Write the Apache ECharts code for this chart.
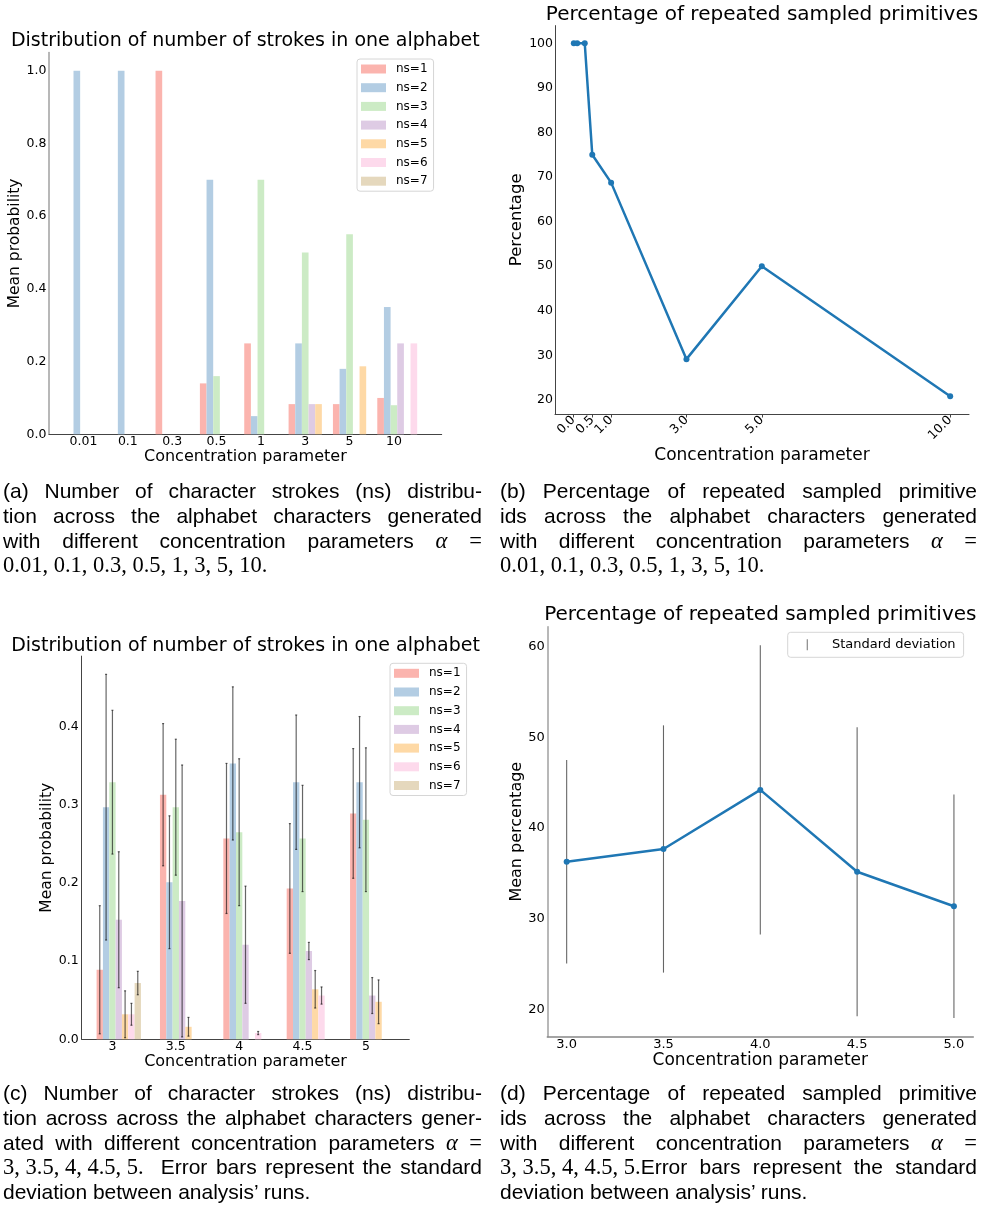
<!DOCTYPE html>
<html><head><meta charset="utf-8">
<script src="https://cdn.jsdelivr.net/npm/echarts@6/dist/echarts.min.js"></script>
<style>
html,body{margin:0;padding:0;background:#fff;}
#chart{position:absolute;left:0;top:0;width:985px;height:1207px;}
.cap{position:absolute;font-family:"Liberation Sans",Arial,sans-serif;font-size:21px;color:#000;}
.cap .l{height:24.8px;line-height:24.8px;text-align:justify;text-align-last:justify;white-space:nowrap;}
.cap .last{text-align-last:left;}
.m{font-family:"Liberation Serif","DejaVu Serif",serif;font-size:22.5px;display:inline-block;}
.a{font-style:italic;}
</style></head>
<body>
<div id="chart"></div>
<div class="cap" style="left:3px;top:479px;width:479px">
<div class="l">(a) Number of character strokes (ns) distribu-</div>
<div class="l">tion across the alphabet characters generated</div>
<div class="l">with different concentration parameters <span class="m a">α</span> <span class="m">=</span></div>
<div class="l last"><span class="m">0.01, 0.1, 0.3, 0.5, 1, 3, 5, 10.</span></div>
</div>
<div class="cap" style="left:500px;top:479px;width:477px">
<div class="l">(b) Percentage of repeated sampled primitive</div>
<div class="l">ids across the alphabet characters generated</div>
<div class="l">with different concentration parameters <span class="m a">α</span> <span class="m">=</span></div>
<div class="l last"><span class="m">0.01, 0.1, 0.3, 0.5, 1, 3, 5, 10.</span></div>
</div>
<div class="cap" style="left:3px;top:1081px;width:479px">
<div class="l">(c) Number of character strokes (ns) distribu-</div>
<div class="l">tion across across the alphabet characters gener-</div>
<div class="l">ated with different concentration parameters <span class="m a">α</span> <span class="m">=</span></div>
<div class="l"><span class="m">3, 3.5, 4, 4.5, 5.</span>&nbsp; Error bars represent the standard</div>
<div class="l last">deviation between analysis’ runs.</div>
</div>
<div class="cap" style="left:500px;top:1081px;width:477px">
<div class="l">(d) Percentage of repeated sampled primitive</div>
<div class="l">ids across the alphabet characters generated</div>
<div class="l">with different concentration parameters <span class="m a">α</span> <span class="m">=</span></div>
<div class="l"><span class="m">3, 3.5, 4, 4.5, 5.</span>Error bars represent the standard</div>
<div class="l last">deviation between analysis’ runs.</div>
</div>
<script>
// ---------------- DATA ----------------
const nsNames = ['ns=1','ns=2','ns=3','ns=4','ns=5','ns=6','ns=7'];

// (a) distribution of number of strokes
const catsA = ['0.01','0.1','0.3','0.5','1','3','5','10'];
const aNs1 = [0, 0, 1.0, 0.14, 0.25, 0.083, 0.083, 0.10];
const aNs2 = [1.0, 1.0, 0, 0.70, 0.05, 0.25, 0.18, 0.35];
const aNs3 = [0, 0, 0, 0.16, 0.70, 0.50, 0.55, 0.08];
const aNs4 = [0, 0, 0, 0, 0, 0.083, 0, 0.25];
const aNs5 = [0, 0, 0, 0, 0, 0.083, 0.187, 0];
const aNs6 = [0, 0, 0, 0, 0, 0, 0, 0.25];
const aNs7 = [0, 0, 0, 0, 0, 0, 0, 0];
const aYTicks = [0, 0.2, 0.4, 0.6, 0.8, 1.0];

// (b) percentage of repeated sampled primitives
const bAlpha = [0.01, 0.1, 0.3, 0.5, 1, 3, 5, 10];
const bPct = [100, 100, 100, 75, 68.75, 29.17, 50, 20.83];
const bXTicks = [0, 0.5, 1, 3, 5, 10];
const bYTicks = [20, 30, 40, 50, 60, 70, 80, 90, 100];

// (c) distribution with std
const catsC = ['3','3.5','4','4.5','5'];
const cNs1 = [0.089, 0.313, 0.257, 0.193, 0.289];
const cNs2 = [0.297, 0.201, 0.353, 0.329, 0.329];
const cNs3 = [0.329, 0.297, 0.265, 0.257, 0.281];
const cNs4 = [0.153, 0.177, 0.121, 0.113, 0.056];
const cNs5 = [0.032, 0.016, 0, 0.064, 0.048];
const cNs6 = [0.032, 0, 0.008, 0.056, 0];
const cNs7 = [0.072, 0, 0, 0, 0];
const cSd1 = [0.082, 0.091, 0.096, 0.083, 0.083];
const cSd2 = [0.170, 0.085, 0.098, 0.086, 0.084];
const cSd3 = [0.092, 0.087, 0.094, 0.068, 0.092];
const cSd4 = [0.087, 0.174, 0.075, 0.011, 0.023];
const cSd5 = [0.030, 0.012, 0, 0.024, 0.028];
const cSd6 = [0.014, 0, 0.002, 0.011, 0];
const cSd7 = [0.015, 0, 0, 0, 0];
const cYTicks = [0, 0.1, 0.2, 0.3, 0.4];

// (d) mean percentage with std
const dAlpha = [3.0, 3.5, 4.0, 4.5, 5.0];
const dMean = [36.3, 37.7, 44.2, 35.2, 31.4];
const dStd = [11.2, 13.6, 15.9, 15.9, 12.3];
const dYTicks = [20, 30, 40, 50, 60];

// ---------------- STYLE / LAYOUT ----------------
const FONT = 'DejaVu Sans';
const PASTEL = ['#fbb4ae','#b3cde3','#ccebc5','#decbe4','#fed9a6','#fddaec','#e5d8bd'];
const BLUE = '#1f77b4';
const aVals = [aNs1,aNs2,aNs3,aNs4,aNs5,aNs6,aNs7];
const cVals = [cNs1,cNs2,cNs3,cNs4,cNs5,cNs6,cNs7];
const cSds = [cSd1,cSd2,cSd3,cSd4,cSd5,cSd6,cSd7];

const grids = [
  {left:49, top:52.5, width:392.7, height:381.8},
  {left:555, top:25.6, width:414, height:388.4},
  {left:81.7, top:656.1, width:327.6, height:383.2},
  {left:547.3, top:626.7, width:426, height:410}
];

function padRange(lo, hi){ const m = (hi-lo)*0.05; return [lo-m, hi+m]; }
// matplotlib-like auto limits
const wA = 0.15, wC = 0.1;
const xA = padRange(-2.5*wA, catsA.length-1 + 4.5*wA);
const yA = [0, Math.max(...aVals.flat())*1.05];
const xB = padRange(Math.min(...bAlpha), Math.max(...bAlpha));
const yB = padRange(Math.min(...bPct), Math.max(...bPct));
const xC = padRange(-2.5*wC, catsC.length-1 + 4.5*wC);
let cMax = 0; cVals.forEach((arr,i)=>arr.forEach((v,k)=>{cMax=Math.max(cMax, v+cSds[i][k]);}));
const yC = [0, cMax*1.05];
const xD = padRange(Math.min(...dAlpha), Math.max(...dAlpha));
const yD = padRange(Math.min(...dMean.map((m,i)=>m-dStd[i])), Math.max(...dMean.map((m,i)=>m+dStd[i])));

const bwA = wA * grids[0].width/(xA[1]-xA[0]);
const bwC = wC * grids[2].width/(xC[1]-xC[0]);

function txt(size, extra){ return Object.assign({fontFamily:FONT, fontSize:size, color:'#000'}, extra||{}); }

function xAxisDef(gi, rng, o){
  return {
    type:'value', gridIndex:gi, min:rng[0], max:rng[1],
    axisLine:{show:true, onZero:false, lineStyle:{color:o.lineColor||'#444', width:o.lineWidth||1}},
    axisTick:o.tick ? {show:true, customValues:o.ticks, length:3.5, lineStyle:{color:'#444'}} : {show:false},
    splitLine:{show:false},
    axisLabel:Object.assign({customValues:o.ticks, formatter:o.fmt, margin:o.margin, rotate:o.rotate||0,
      hideOverlap:false}, txt(o.fs)),
    name:'Concentration parameter', nameLocation:'middle', nameGap:o.nameGap,
    nameTextStyle:txt(o.nfs)
  };
}
function yAxisDef(gi, rng, o){
  return {
    type:'value', gridIndex:gi, min:rng[0], max:rng[1],
    axisLine:{show:true, onZero:false, lineStyle:{color:o.lineColor||'#444', width:o.lineWidth||1}},
    axisTick:{show:false}, splitLine:{show:false},
    axisLabel:Object.assign({customValues:o.ticks, formatter:o.fmt, margin:o.margin, hideOverlap:false}, txt(o.fs)),
    name:o.name, nameLocation:'middle', nameGap:o.nameGap,
    nameTextStyle:txt(o.nfs)
  };
}

function errRender(cap, color, width){
  return function(params, api){
    const x = api.value(0), lo = api.value(1), hi = api.value(2);
    const p1 = api.coord([x, hi]), p2 = api.coord([x, lo]);
    const st = {stroke:color, lineWidth:width};
    const ch = [{type:'line', shape:{x1:p1[0], y1:p1[1], x2:p2[0], y2:p2[1]}, style:st}];
    if (cap > 0) {
      ch.push({type:'line', shape:{x1:p1[0]-cap, y1:p1[1], x2:p1[0]+cap, y2:p1[1]}, style:st});
      ch.push({type:'line', shape:{x1:p2[0]-cap, y1:p2[1], x2:p2[0]+cap, y2:p2[1]}, style:st});
    }
    return {type:'group', children:ch};
  };
}

const series = [];
// (a) bars
aVals.forEach((vals,i)=>{
  series.push({type:'bar', name:nsNames[i], xAxisIndex:0, yAxisIndex:0,
    barWidth:bwA, barGap:'0%', itemStyle:{color:PASTEL[i]},
    data:vals.map((v,k)=>[k+wA, v]), silent:true, animation:false});
});
// (c) bars
cVals.forEach((vals,i)=>{
  series.push({type:'bar', name:nsNames[i], xAxisIndex:2, yAxisIndex:2,
    barWidth:bwC, barGap:'0%', itemStyle:{color:PASTEL[i]},
    data:vals.map((v,k)=>[k+wC, v]), silent:true, animation:false});
});
// (c) error bars
const cErr = [];
cVals.forEach((vals,i)=>vals.forEach((v,k)=>{
  if (cSds[i][k] > 0) cErr.push([k + (i-2)*wC, v - cSds[i][k], v + cSds[i][k]]);
}));
series.push({type:'custom', name:'cerr', xAxisIndex:2, yAxisIndex:2, z:5,
  renderItem:errRender(1, 'rgba(0,0,0,0.6)', 1.2), encode:{x:0, y:[1,2]}, data:cErr, silent:true, animation:false});
// (b) line
series.push({type:'line', name:'pct', xAxisIndex:1, yAxisIndex:1,
  data:bAlpha.map((a,i)=>[a, bPct[i]]), symbol:'circle', symbolSize:6, showSymbol:true,
  lineStyle:{color:BLUE, width:2.5}, itemStyle:{color:BLUE}, silent:true, animation:false});
// (d) error bars + line
series.push({type:'custom', name:'Standard deviation', xAxisIndex:3, yAxisIndex:3, z:1,
  itemStyle:{color:'#777'},
  renderItem:errRender(0, 'rgba(0,0,0,0.6)', 1.1), encode:{x:0, y:[1,2]},
  data:dAlpha.map((a,i)=>[a, dMean[i]-dStd[i], dMean[i]+dStd[i]]), silent:true, animation:false});
series.push({type:'line', name:'mean', xAxisIndex:3, yAxisIndex:3, z:3,
  data:dAlpha.map((a,i)=>[a, dMean[i]]), symbol:'circle', symbolSize:6, showSymbol:true,
  lineStyle:{color:BLUE, width:2.5}, itemStyle:{color:BLUE}, silent:true, animation:false});

function legendNs(left, top){
  return {left:left, top:top, orient:'vertical', padding:[4,6,4,4], itemWidth:25, itemHeight:9, itemGap:6.7,
    icon:'rect', selectedMode:false, backgroundColor:'#fff', borderColor:'#d6d6d6', borderWidth:1, borderRadius:3,
    data:nsNames, textStyle:txt(12, {lineHeight:12, padding:[0,0,0,5]})};
}

const option = {
  animation:false,
  backgroundColor:'#fff',
  title:[
    {text:'Distribution of number of strokes in one alphabet', left:245.3, top:32, textAlign:'center', padding:0,
      textStyle:txt(19,{fontWeight:'normal', lineHeight:19})},
    {text:'Percentage of repeated sampled primitives', left:762, top:4.5, textAlign:'center', padding:0,
      textStyle:txt(20,{fontWeight:'normal', lineHeight:20})},
    {text:'Distribution of number of strokes in one alphabet', left:245.5, top:636.8, textAlign:'center', padding:0,
      textStyle:txt(19,{fontWeight:'normal', lineHeight:19})},
    {text:'Percentage of repeated sampled primitives', left:760.3, top:604.8, textAlign:'center', padding:0,
      textStyle:txt(20,{fontWeight:'normal', lineHeight:20})}
  ],
  legend:[
    legendNs(357, 59),
    legendNs(390, 663.3),
    {left:787.7, top:632.3, orient:'vertical', padding:[6,8,6,19], itemWidth:1.2, itemHeight:11, icon:'rect',
      selectedMode:false, backgroundColor:'#fff', borderColor:'#d6d6d6', borderWidth:1, borderRadius:3,
      data:[{name:'Standard deviation', itemStyle:{color:'#888'}}],
      textStyle:txt(13,{lineHeight:13, padding:[0,0,0,19]})}
  ],
  grid:grids.map(g=>Object.assign({containLabel:false}, g)),
  xAxis:[
    xAxisDef(0, xA, {ticks:catsA.map((c,k)=>k), fmt:v=>catsA[Math.round(v)], fs:12.5, margin:1, nameGap:12.7, nfs:16, lineColor:'#444'}),
    xAxisDef(1, xB, {ticks:bXTicks, fmt:v=>v.toFixed(1), fs:12.5, margin:4, rotate:45, nameGap:33, nfs:17, tick:true}),
    xAxisDef(2, xC, {ticks:catsC.map((c,k)=>k), fmt:v=>catsC[Math.round(v)], fs:12.5, margin:1, nameGap:12.7, nfs:16}),
    xAxisDef(3, xD, {ticks:dAlpha, fmt:v=>v.toFixed(1), fs:13, margin:1, nameGap:14, nfs:17, lineColor:'#888', lineWidth:1.5})
  ],
  yAxis:[
    yAxisDef(0, yA, {ticks:aYTicks, fmt:v=>v.toFixed(1), fs:12.5, margin:2.5, name:'Mean probability', nameGap:23, nfs:15.5, lineColor:'#a0a0a0', lineWidth:1.5}),
    yAxisDef(1, yB, {ticks:bYTicks, fmt:v=>String(Math.round(v)), fs:12.5, margin:2, name:'Percentage', nameGap:25, nfs:16.5}),
    yAxisDef(2, yC, {ticks:cYTicks, fmt:v=>v.toFixed(1), fs:12.5, margin:3, name:'Mean probability', nameGap:24, nfs:15.5}),
    yAxisDef(3, yD, {ticks:dYTicks, fmt:v=>String(Math.round(v)), fs:13, margin:2.5, name:'Mean percentage', nameGap:21, nfs:16, lineColor:'#a0a0a0', lineWidth:1.5})
  ],
  series:series
};

const chart = echarts.init(document.getElementById('chart'), null, {renderer:'canvas', width:985, height:1207});
chart.setOption(option);
</script>
</body></html>
